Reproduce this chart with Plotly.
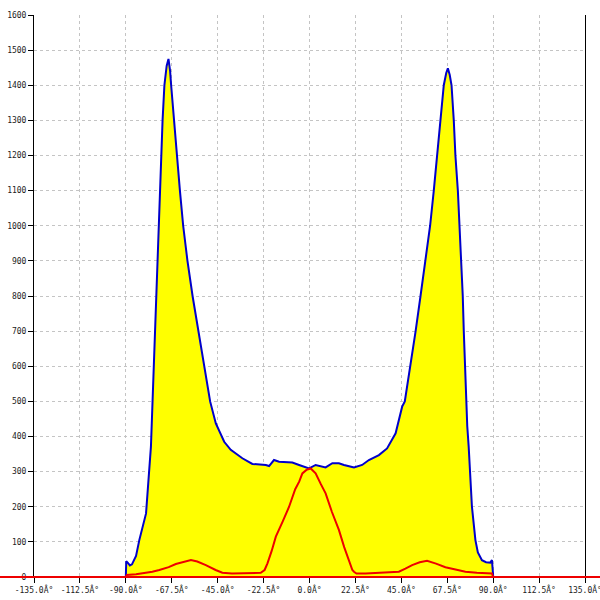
import plotly.graph_objects as go

# Blue series (total) - angle in degrees, value
blue_angle = [-90, -89.8, -89, -88, -87, -85, -83.4, -80.1, -77.7, -76.9, -76.2, -75.6, -75.3,
              -74.5, -74.0, -73.3, -72.8, -72.0, -71.1, -70.0, -69.1, -68.3, -67.8, -66.4, -65.2,
              -63.5, -61.9, -59.8, -57.3, -54.4, -51.6, -48.7, -45.9, -41.8, -38.6, -32.9, -28.0,
              -21.4, -19.8, -17.4, -14.9, -8.4, -5.1, -3.5, -0.2, 3.0, 6.3, 7.9, 11.2, 14.4, 16.9,
              21.8, 25.8, 29.1, 34.0, 38.0, 42.2, 45.4, 46.7, 49.5, 52.0, 54.4, 56.8, 59.1, 60.9,
              62.5, 64.2, 65.8, 67.0, 67.8, 68.7, 69.6, 70.7, 71.5, 72.7, 73.6, 74.5, 75.1, 75.6,
              76.1, 76.6, 77.3, 78.0, 79.6, 81.3, 82.5, 84.5, 86.5, 88.6, 89.4, 89.9, 90]
blue_value = [0, 45, 40, 33, 36, 60, 105, 181, 371, 500, 600, 700, 800,
              900, 1000, 1100, 1200, 1300, 1400, 1455, 1475, 1440, 1400, 1300, 1200,
              1100, 1000, 900, 800, 700, 600, 500, 437, 385, 362, 338, 322,
              319, 316, 333, 328, 326, 319, 316, 309, 319, 314, 312, 324, 324, 319,
              312, 319, 333, 347, 366, 409, 485, 500, 600, 700, 800, 900, 1000, 1100,
              1200, 1300, 1400, 1435, 1448, 1430, 1400, 1300, 1200, 1100, 1000, 900, 800, 700,
              600, 500, 430, 371, 200, 105, 70, 48, 42, 41, 48, 11, 0]

# Red series
red_angle = [-90, -89.5, -85, -81.8, -77, -73.6, -69, -65.5, -61, -58.1, -55, -50.8, -46, -42.7,
             -38, -32.9, -23.9, -22, -20.6, -18.5, -16.5, -13, -10, -7, -5, -3.5, -1.5, 0.6,
             3.0, 5.5, 7.9, 11, 14.4, 17, 19.3, 21.0, 21.8, 23, 27.5, 35, 43.8, 47, 50.3, 54,
             57.6, 62, 66.6, 71, 76.4, 82, 89.4, 90]
red_value = [0, 6, 8, 10, 15, 20, 28, 37, 45, 48, 44, 34, 20, 12,
             10, 10, 12, 20, 39, 75, 115, 160, 200, 250, 272, 295, 305, 309,
             295, 265, 238, 185, 134, 85, 48, 20, 15, 10, 10, 12, 15, 24, 34, 42,
             46, 38, 28, 22, 15, 12, 10, 0]

x_tickvals = [-135, -112.5, -90, -67.5, -45, -22.5, 0, 22.5, 45, 67.5, 90, 112.5, 135]
x_ticktext = ["-135.0Â°", "-112.5Â°", "-90.0Â°", "-67.5Â°", "-45.0Â°", "-22.5Â°", "0.0Â°",
              "22.5Â°", "45.0Â°", "67.5Â°", "90.0Â°", "112.5Â°", "135.0Â°"]
y_tickvals = [0, 100, 200, 300, 400, 500, 600, 700, 800, 900, 1000, 1100, 1200, 1300, 1400, 1500, 1600]

fig = go.Figure()
fig.add_trace(go.Scatter(x=blue_angle, y=blue_value, mode="lines", fill="tozeroy",
                         fillcolor="#ffff00", line=dict(color="#0000cc", width=2),
                         hoverinfo="skip", showlegend=False, cliponaxis=False))
fig.add_trace(go.Scatter(x=red_angle, y=red_value, mode="lines",
                         line=dict(color="#ee0000", width=2),
                         hoverinfo="skip", showlegend=False, cliponaxis=False))

fig.add_shape(type="line", xref="paper", yref="paper", x0=-0.07, x1=1.04, y0=0, y1=0,
              line=dict(color="#ee0000", width=2), layer="above")

tickfont = dict(family="DejaVu Sans Mono", size=8, color="#222222")
fig.update_layout(
    width=600, height=600,
    margin=dict(l=34, r=15, t=15, b=23, autoexpand=False),
    paper_bgcolor="white", plot_bgcolor="white",
    xaxis=dict(range=[-135, 135], tickvals=x_tickvals, ticktext=x_ticktext,
               showgrid=True, gridcolor="#c4c4c4", griddash="3px,3px", gridwidth=1,
               ticks="outside", ticklen=5, tickcolor="black", tickwidth=1,
               showline=True, linecolor="black", linewidth=1,
               zeroline=False, tickfont=tickfont, tickangle=0,
               automargin=False, ticklabeloverflow="allow"),
    yaxis=dict(range=[0, 1600], tickvals=y_tickvals,
               showgrid=True, gridcolor="#c4c4c4", griddash="3px,3px", gridwidth=1,
               ticks="outside", ticklen=5, tickcolor="black", tickwidth=1,
               showline=True, linecolor="black", linewidth=1, mirror=True,
               zeroline=False, tickfont=tickfont,
               automargin=False, ticklabeloverflow="allow"),
)

fig.write_html("out.html", config={"displayModeBar": False},
               post_script="document.body.style.margin='0';")
